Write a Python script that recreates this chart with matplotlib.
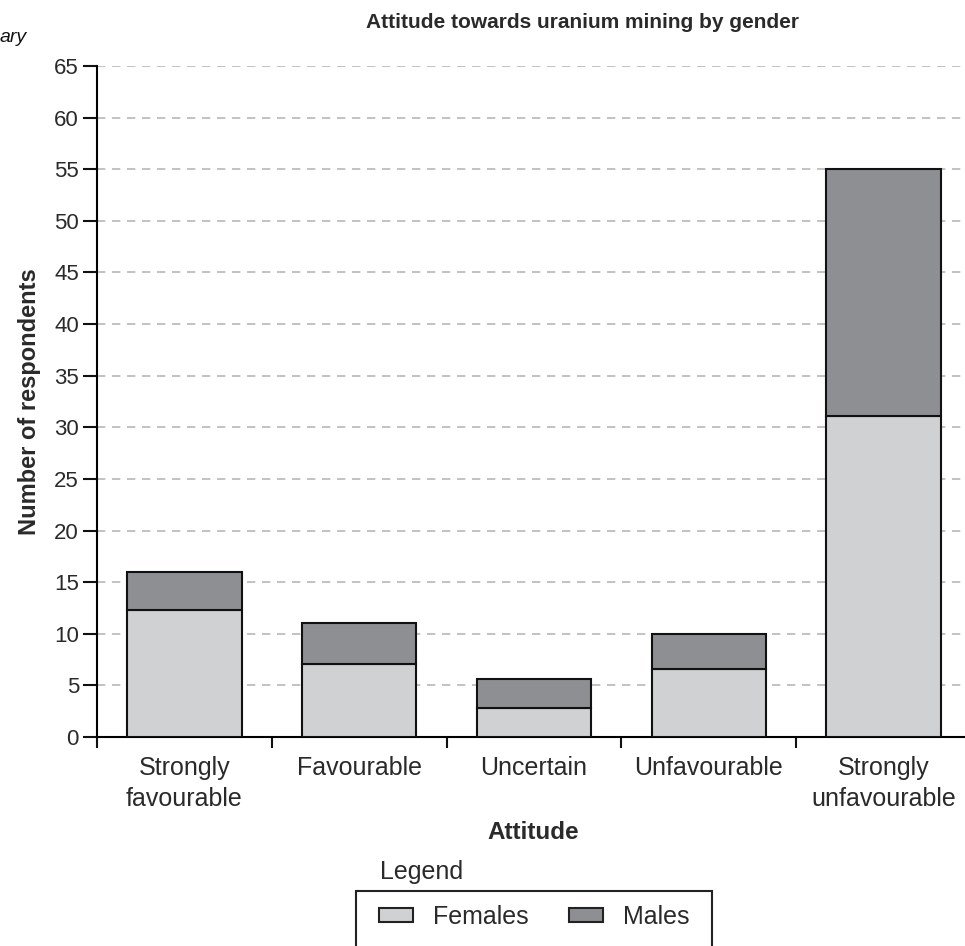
import numpy as np
import matplotlib.pyplot as plt
from matplotlib.patches import Patch, Rectangle

plt.rcParams['font.family'] = ['Liberation Sans', 'DejaVu Sans']

# data
attitudes = ["Strongly\nfavourable", "Favourable", "Uncertain", "Unfavourable", "Strongly\nunfavourable"]
females = [12.3, 7.1, 2.8, 6.6, 31.1]
males = [3.7, 3.9, 2.8, 3.4, 23.9]
yticks = list(range(0, 70, 5))

female_col = "#d0d1d3"
male_col = "#8e8f92"
text_col = "#2a2a2a"

W, H = 965, 946
fig = plt.figure(figsize=(W / 100, H / 100), dpi=100)
ax = fig.add_axes([97 / W, 209 / H, 874 / W, 671 / H])

x = np.arange(len(attitudes))
ax.bar(x, females, width=0.655, color=female_col, edgecolor="#111111", lw=1.5, zorder=3)
ax.bar(x, males, bottom=females, width=0.655, color=male_col, edgecolor="#111111", lw=1.5, zorder=3)

ax.set_xlim(-0.5, 4.5)
ax.set_ylim(0, 65)
ax.set_yticks(yticks)
ax.tick_params(axis="y", labelsize=16, length=10, width=1.5, colors="#111111", labelcolor=text_col, pad=3)

# category boundaries get the tick marks, names sit between them
ax.set_xticks(np.arange(-0.5, 4.0, 1.0))
ax.set_xticklabels([])
ax.set_xticks(x, minor=True)
ax.set_xticklabels(attitudes, minor=True, fontsize=18, color=text_col, linespacing=1.32)
ax.tick_params(axis="x", which="major", length=8, width=1.5, colors="#111111")
ax.tick_params(axis="x", which="minor", length=0, pad=14)

ax.yaxis.grid(True, ls=(0, (5, 4)), color="#b8b8b8", lw=1.2, zorder=0)
for s in ["top", "right"]:
    ax.spines[s].set_visible(False)
ax.spines["left"].set_linewidth(1.5)
ax.spines["bottom"].set_linewidth(1.5)

fig.text(582 / W, 1 - 22 / H, "Attitude towards uranium mining by gender",
         ha="center", va="center", fontsize=15, fontweight="bold", color=text_col)
fig.text(30 / W, 1 - 402 / H, "Number of respondents", rotation=90,
         ha="center", va="center", fontsize=17, fontweight="bold", color=text_col)
fig.text(533 / W, 1 - 832 / H, "Attitude", ha="center", va="center",
         fontsize=17.5, fontweight="bold", color=text_col)
fig.text(0, 1 - 38 / H, "ary", ha="left", va="center", fontsize=14,
         style="italic", color="#111111")
fig.text(380 / W, 1 - 872 / H, "Legend", ha="left", va="center",
         fontsize=18, color=text_col)

# legend box runs off the bottom of the picture
fig.add_artist(Rectangle((356 / W, -20 / H), 356 / W, (20 + H - 891) / H,
                         transform=fig.transFigure, fill=False, ec="#222222", lw=1.5))

handles = [Patch(facecolor=female_col, edgecolor="#222222", lw=1.5, label="Females"),
           Patch(facecolor=male_col, edgecolor="#222222", lw=1.5, label="Males")]
leg = fig.legend(handles=handles, loc="center left", bbox_to_anchor=(379 / W, 1 - 917 / H),
                 ncol=2, fontsize=18, frameon=False, borderpad=0, borderaxespad=0,
                 handlelength=1.36, handleheight=0.5, columnspacing=1.6, handletextpad=0.8)
for t in leg.get_texts():
    t.set_color(text_col)

fig.savefig("out.png", dpi=100)
